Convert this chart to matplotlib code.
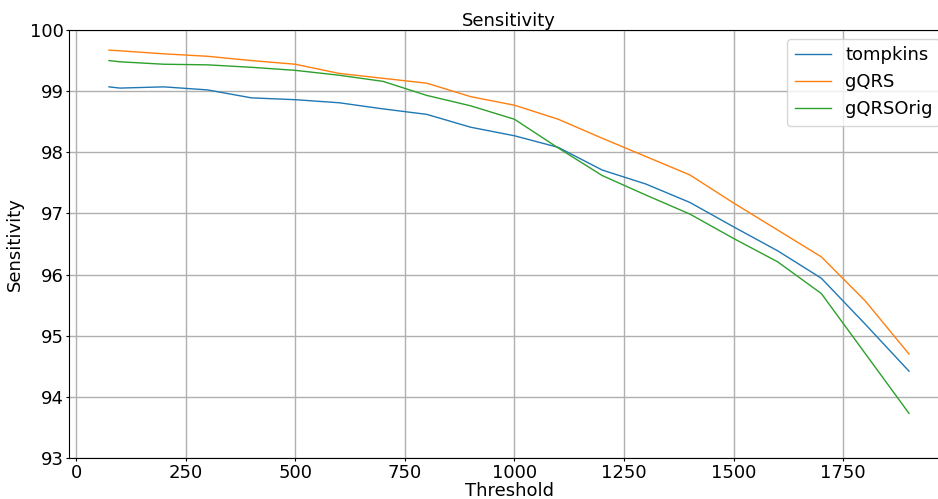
import matplotlib
matplotlib.use('Agg')
import matplotlib.pyplot as plt

# thresholds and sensitivity values (%)
thresholds = [75, 100, 200, 300, 400, 500, 600, 700, 800, 900, 1000,
              1100, 1200, 1300, 1400, 1500, 1600, 1700, 1800, 1900]
tompkins = [99.07, 99.05, 99.07, 99.02, 98.89, 98.86, 98.81, 98.71, 98.62, 98.41, 98.27,
            98.08, 97.71, 97.48, 97.18, 96.78, 96.39, 95.94, 95.19, 94.42]
gqrs = [99.67, 99.66, 99.61, 99.57, 99.50, 99.44, 99.29, 99.21, 99.13, 98.91, 98.77,
        98.54, 98.23, 97.93, 97.63, 97.17, 96.73, 96.29, 95.57, 94.70]
gqrs_orig = [99.50, 99.48, 99.44, 99.43, 99.39, 99.34, 99.26, 99.16, 98.93, 98.76, 98.54,
             98.07, 97.62, 97.30, 96.99, 96.59, 96.21, 95.69, 94.71, 93.73]

W, H = 938, 499
fig = plt.figure(figsize=(W / 100, H / 100), dpi=100)
# the original is cropped on the right, so the axes run past the edge
ax = fig.add_axes([69 / W, 1 - 458 / H, (949 - 69) / W, (458 - 30) / H])

ax.plot(thresholds, tompkins, linewidth=1, label='tompkins')
ax.plot(thresholds, gqrs, linewidth=1, label='gQRS')
ax.plot(thresholds, gqrs_orig, linewidth=1, label='gQRSOrig')

ax.set_ylim(93, 100)
ax.grid(True, color='#b0b0b0', linewidth=1)
ax.set_title('Sensitivity', fontsize=13, pad=2)
ax.set_xlabel('Threshold', fontsize=13, labelpad=0)
ax.set_ylabel('Sensitivity', fontsize=13, labelpad=4)
ax.tick_params(labelsize=13, length=2, pad=2)
ax.legend(loc='upper right', fontsize=13)

fig.savefig('out.png', dpi=100)
